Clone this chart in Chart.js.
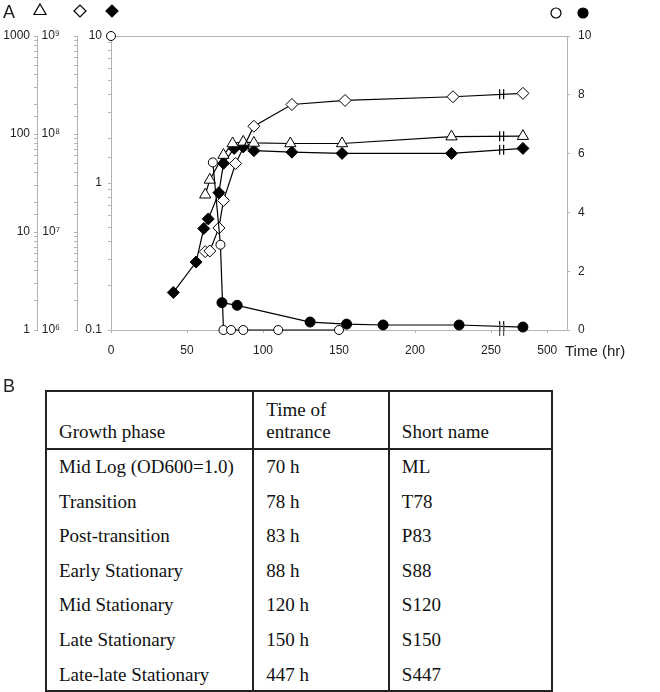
<!DOCTYPE html>
<html>
<head>
<meta charset="utf-8">
<script src="https://cdn.jsdelivr.net/npm/chart.js@4.4.0/dist/chart.umd.min.js"></script>
<style>
  body { margin: 0; background: #fff; }
  #wrap { position: relative; width: 660px; height: 692px; font-family: 'Liberation Sans', Arial, sans-serif; color: #222; overflow: hidden; }
  #chart { position: absolute; left: 0; top: 0; }
  .lbl { position: absolute; line-height: 1; white-space: nowrap; }
  #phases { position: absolute; left: 45px; top: 390px; width: 508px; border-collapse: collapse;
            font-family: 'Liberation Serif', 'Times New Roman', serif; font-size: 19px; color: #111; }
  #phases th, #phases td { border-left: 2px solid #222; border-right: 2px solid #222; padding: 0 12px; text-align: left; font-weight: normal; }
  #phases th { height: 51px; vertical-align: bottom; padding-bottom: 5px; line-height: 22px; border-top: 2px solid #222; border-bottom: 2px solid #222; }
  #phases td { height: 34.5px; padding-top: 0; padding-bottom: 0; vertical-align: middle; line-height: 22px; }
  #phases tbody tr:last-child td { border-bottom: 2px solid #222; height: 26px; padding-top: 7px; vertical-align: top; }
</style>
</head>
<body>
<div id="wrap">
  <canvas id="chart" width="660" height="380"></canvas>
  <div class="lbl" style="left:3px;top:3px;font-size:18px;">A</div>
  <div class="lbl" style="left:565px;top:343px;font-size:15px;">Time (hr)</div>
  <div class="lbl" style="left:3px;top:377px;font-size:18px;">B</div>
  <table id="phases">
    <colgroup><col style="width:208px"><col style="width:136px"><col style="width:164px"></colgroup>
    <thead><tr><th>Growth phase</th><th>Time of<br>entrance</th><th>Short name</th></tr></thead>
    <tbody id="phaseRows"></tbody>
  </table>
</div>
<script>
// time (h) and values
const triTime = [62, 65, 74, 80, 87, 94, 118, 152, 224, 447];
const triVal = [24, 34, 61, 80, 83, 81, 80, 80, 94, 95];
const cellTime = [62, 65, 71, 74, 82, 94, 119, 154, 225, 447];
const cellVal = [6.3e6, 6.4e6, 1.1e7, 2.1e7, 5.0e7, 1.2e8, 2.0e8, 2.2e8, 2.4e8, 2.6e8];
const odTime = [41, 56, 61, 64, 71, 74, 81, 87, 94, 119, 152, 224, 447];
const odVal = [0.18, 0.29, 0.49, 0.57, 0.86, 1.36, 1.72, 1.76, 1.66, 1.62, 1.59, 1.59, 1.72];
const openCircTime = [0, 67, 72, 74, 79, 87, 110, 150];
const openCircVal = [10, 5.7, 2.9, 0, 0, 0, 0, 0];
const fillCircTime = [73, 83, 131, 155, 179, 229, 447];
const fillCircVal = [0.93, 0.84, 0.27, 0.2, 0.17, 0.17, 0.1];

// x axis is broken after ~257 h; 447 h sits just past the break
const BREAK_AT = 257;
const LATE_POS = 271;
const xTickPos = [0, 50, 100, 150, 200, 250, 287];
const xTickLabels = ['0', '50', '100', '150', '200', '250', '500'];
const cellTickLabels = {6: '10\u2076', 7: '10\u2077', 8: '10\u2078', 9: '10\u2079'};

// table B
const phaseNames = ['Mid Log (OD600=1.0)', 'Transition', 'Post-transition', 'Early Stationary', 'Mid Stationary', 'Late Stationary', 'Late-late Stationary'];
const phaseTimes = ['70 h', '78 h', '83 h', '88 h', '120 h', '150 h', '447 h'];
const phaseShort = ['ML', 'T78', 'P83', 'S88', 'S120', 'S150', 'S447'];

const rows = document.getElementById('phaseRows');
phaseNames.forEach((name, i) => {
  const tr = document.createElement('tr');
  [name, phaseTimes[i], phaseShort[i]].forEach(txt => {
    const td = document.createElement('td');
    td.textContent = txt;
    tr.appendChild(td);
  });
  rows.appendChild(tr);
});

function timePos(t) {
  return t > BREAK_AT ? LATE_POS : t;
}

function series(times, vals, axis, style, fill, radius) {
  return {
    data: times.map((t, i) => ({x: timePos(t), y: vals[i]})),
    yAxisID: axis,
    showLine: true,
    borderColor: '#000',
    borderWidth: 1.2,
    pointStyle: style,
    pointRadius: radius,
    pointBackgroundColor: fill,
    pointBorderColor: '#000',
    pointBorderWidth: 1,
    clip: false
  };
}

function isDecade(v) {
  const l = Math.log10(v);
  return Math.abs(l - Math.round(l)) < 1e-6;
}

function drawMarker(ctx, style, x, y, r, fill) {
  ctx.beginPath();
  if (style === 'triangle') {
    ctx.moveTo(x, y - r);
    ctx.lineTo(x + r * 0.87, y + r * 0.5);
    ctx.lineTo(x - r * 0.87, y + r * 0.5);
    ctx.closePath();
  } else if (style === 'rectRot') {
    ctx.moveTo(x - r, y);
    ctx.lineTo(x, y - r);
    ctx.lineTo(x + r, y);
    ctx.lineTo(x, y + r);
    ctx.closePath();
  } else {
    ctx.arc(x, y, r, 0, Math.PI * 2);
  }
  ctx.fillStyle = fill;
  ctx.fill();
  ctx.lineWidth = 1.2;
  ctx.strokeStyle = '#000';
  ctx.stroke();
}

const axisGray = '#b4b4b4';
const tickFont = {family: "'Liberation Sans', Arial, sans-serif", size: 12};

const frame = {
  id: 'frame',
  beforeDatasetsDraw(chart) {
    const {ctx, chartArea} = chart;
    ctx.save();
    ctx.strokeStyle = axisGray;
    ctx.lineWidth = 1;
    ctx.beginPath();
    ctx.moveTo(chartArea.left, chartArea.top + 0.5);
    ctx.lineTo(chartArea.right, chartArea.top + 0.5);
    ctx.stroke();
    ctx.restore();
  },
  afterDatasetsDraw(chart) {
    const {ctx, chartArea, scales} = chart;
    const bx = scales.x.getPixelForValue(BREAK_AT);
    ctx.save();
    ctx.lineWidth = 1.2;
    // break marks on every line that crosses the gap
    chart.data.datasets.forEach((ds, di) => {
      const pts = chart.getDatasetMeta(di).data;
      for (let i = 0; i < pts.length - 1; i++) {
        if (ds.data[i].x < BREAK_AT && ds.data[i + 1].x > BREAK_AT) {
          const f = (bx - pts[i].x) / (pts[i + 1].x - pts[i].x);
          const by = pts[i].y + f * (pts[i + 1].y - pts[i].y);
          ctx.strokeStyle = '#000';
          ctx.beginPath();
          ctx.moveTo(bx - 2, by - 5); ctx.lineTo(bx - 2, by + 5);
          ctx.moveTo(bx + 2, by - 5); ctx.lineTo(bx + 2, by + 5);
          ctx.stroke();
        }
      }
    });
    // break on the time axis
    ctx.strokeStyle = '#555';
    ctx.beginPath();
    ctx.moveTo(bx - 2, chartArea.bottom - 6); ctx.lineTo(bx - 2, chartArea.bottom + 6);
    ctx.moveTo(bx + 2, chartArea.bottom - 6); ctx.lineTo(bx + 2, chartArea.bottom + 6);
    ctx.stroke();
    ctx.restore();
  },
  afterDraw(chart) {
    const {ctx, scales} = chart;
    ctx.save();
    drawMarker(ctx, 'triangle', scales.yTri.right + 3, 11, 7, '#fff');
    drawMarker(ctx, 'rectRot', scales.yCell.right + 3, 11, 6, '#fff');
    drawMarker(ctx, 'rectRot', scales.yOD.right + 1, 11, 6, '#000');
    drawMarker(ctx, 'circle', scales.yR.left - 11, 13, 5, '#fff');
    drawMarker(ctx, 'circle', scales.yR.left + 16, 13, 5, '#000');
    ctx.restore();
  }
};

const openCirc = series(openCircTime, openCircVal, 'yR', 'circle', '#fff', 4.5);
// the starting culture point is not joined to the rest
openCirc.segment = {borderColor: c => (c.p0DataIndex === 0 ? 'rgba(0,0,0,0)' : '#000')};

const ctx = document.getElementById('chart').getContext('2d');

const chart = new Chart(ctx, {
  type: 'scatter',
  data: {
    datasets: [
      openCirc,
      series(fillCircTime, fillCircVal, 'yR', 'circle', '#000', 5),
      series(cellTime, cellVal, 'yCell', 'rectRot', '#fff', 6),
      series(triTime, triVal, 'yTri', 'triangle', '#fff', 6.5),
      series(odTime, odVal, 'yOD', 'rectRot', '#000', 6)
    ]
  },
  options: {
    responsive: false,
    animation: false,
    layout: {padding: {top: 36, right: 63, bottom: 0, left: 0}},
    plugins: {legend: {display: false}, tooltip: {enabled: false}},
    scales: {
      x: {
        type: 'linear',
        min: 0,
        max: 300,
        afterBuildTicks: s => { s.ticks = xTickPos.map(v => ({value: v})); },
        afterFit: s => { s.height = 50; },
        ticks: {callback: (v, i) => xTickLabels[i], autoSkip: false, maxRotation: 0, padding: 10, color: '#222', font: tickFont},
        grid: {drawOnChartArea: false, tickLength: 3, color: axisGray},
        border: {color: axisGray}
      },
      yTri: {
        type: 'logarithmic',
        position: 'left',
        weight: 2,
        min: 1,
        max: 1000,
        afterFit: s => { s.width = 37; },
        ticks: {callback: v => (isDecade(v) ? String(Math.round(v)) : ''), autoSkip: false, padding: 4, color: '#222', font: tickFont},
        grid: {drawOnChartArea: false, tickLength: 3, color: axisGray},
        border: {color: axisGray}
      },
      yCell: {
        type: 'logarithmic',
        position: 'left',
        weight: 1,
        min: 1e6,
        max: 1e9,
        afterFit: s => { s.width = 40; },
        ticks: {callback: v => (isDecade(v) ? cellTickLabels[Math.round(Math.log10(v))] : ''), autoSkip: false, padding: 14, color: '#222', font: tickFont},
        grid: {drawOnChartArea: false, tickLength: 3, color: axisGray},
        border: {color: axisGray}
      },
      yOD: {
        type: 'logarithmic',
        position: 'left',
        weight: 0,
        min: 0.1,
        max: 10,
        afterFit: s => { s.width = 34; },
        ticks: {callback: v => (isDecade(v) ? String(Number(v.toPrecision(1))) : ''), autoSkip: false, padding: 6, color: '#222', font: tickFont},
        grid: {drawOnChartArea: false, tickLength: 3, color: axisGray},
        border: {color: axisGray}
      },
      yR: {
        type: 'linear',
        position: 'right',
        min: 0,
        max: 10,
        afterFit: s => { s.width = 30; },
        ticks: {stepSize: 2, padding: 8, color: '#222', font: tickFont},
        grid: {drawOnChartArea: false, tickLength: 3, color: axisGray},
        border: {color: axisGray}
      }
    }
  },
  plugins: [frame]
});
</script>
</body>
</html>
